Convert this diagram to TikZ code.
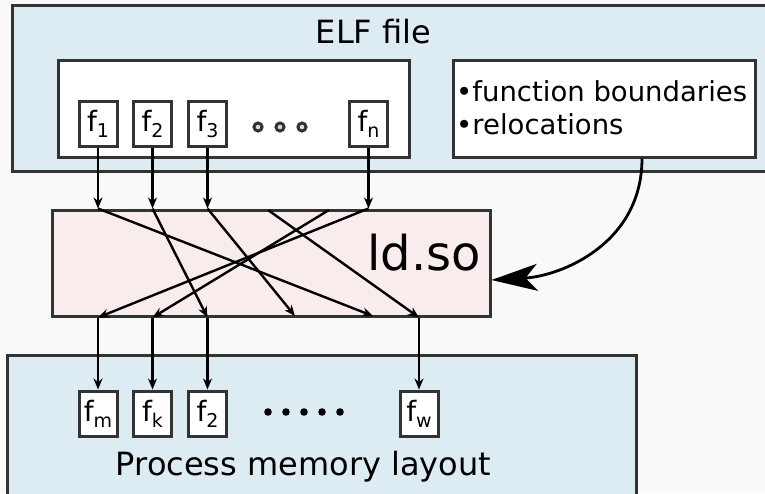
\documentclass[tikz,border=0pt]{standalone}
\usepackage{fontspec}
\setmainfont{DejaVu Sans}
\usetikzlibrary{arrows.meta, positioning, calc}
\definecolor{cbg}{HTML}{F9F9F9}
\definecolor{cpanel}{HTML}{DDECF3}
\definecolor{cpink}{HTML}{F9ECEC}
\definecolor{cline}{HTML}{333333}
\definecolor{cdot}{HTML}{C9E6F7}

\newcommand{\fsub}[1]{f\raisebox{-6pt}{\fontsize{19}{19}\selectfont #1}}

\tikzset{
  panel/.style={draw=cline, line width=3pt, fill=cpanel, inner sep=0pt},
  whitebox/.style={draw=cline, line width=3pt, fill=white, inner sep=0pt},
  fbox/.style={whitebox, minimum width=38pt, minimum height=45pt, font=\fontsize{28}{28}\selectfont},
  flow/.style={-{Stealth[length=11pt, width=9pt]}, line width=2.4pt},
  feed/.style={-{Stealth[length=46pt, width=27pt, inset=12pt]}, line width=2.8pt},
}

\begin{document}
\begin{tikzpicture}[x=1pt, y=-1pt]
  \useasboundingbox (0,0) rectangle (765,493);
  \clip (0,0) rectangle (765,493);
  \fill[cbg] (0,0) rectangle (765,493);

  % ELF file
  \node[panel, minimum width=770pt, minimum height=166pt] (elf) at (397,88) {};
  \node[anchor=base, font=\fontsize{32}{32}\selectfont] (elftitle) at (373.5,43) {ELF file};
  \node[whitebox, minimum width=351pt, minimum height=97pt] (code) at (233.5,108.5) {};
  \node[whitebox, minimum width=302pt, minimum height=97pt] (meta) at (604,108.5) {};
  \node[anchor=west, align=left, inner sep=0pt, font=\fontsize{27.5}{33}\selectfont] (metatext) at (456,108)
    {•function boundaries\\•relocations};

  \node[fbox] (f1) at (98,123.5) {\fsub{1}};
  \node[fbox] (f2) at (152.5,123.5) {\fsub{2}};
  \node[fbox] (f3) at (207.5,123.5) {\fsub{3}};
  \node[fbox] (fn) at (368.5,123.5) {\fsub{n}};
  \foreach \x in {258,280,302}
    \fill[cdot, draw=cline, line width=3pt] (\x,127) circle (4pt);

  % loader
  \node[draw=cline, line width=3pt, fill=cpink, minimum width=438pt, minimum height=106pt] (ldso) at (271,263) {};
  \node[anchor=base, font=\fontsize{48}{48}\selectfont] (ldtitle) at (424,270) {ld.so};

  % process memory
  \node[panel, minimum width=629pt, minimum height=150pt] (mem) at (321.5,430) {};
  \node[fbox] (fm) at (98,413.5) {\fsub{m}};
  \node[fbox] (fk) at (152.5,413.5) {\fsub{k}};
  \node[fbox] (fb) at (207.5,413.5) {\fsub{2}};
  \node[fbox] (fw) at (419,413.5) {\fsub{w}};
  \foreach \x in {268,286,304,322,340}
    \fill[black] (\x,412) circle (3.8pt);
  \node[anchor=base, font=\fontsize{32}{32}\selectfont] (memtitle) at (303.5,475) {Process memory layout};

  % entry and exit points on ld.so
  \coordinate (t1) at (f1.south |- ldso.north);
  \coordinate (t2) at (f2.south |- ldso.north);
  \coordinate (t3) at (f3.south |- ldso.north);
  \coordinate (t4) at (268,210);
  \coordinate (t5) at (329,210);
  \coordinate (t6) at (fn.south |- ldso.north);
  \coordinate (b1) at (fm.north |- ldso.south);
  \coordinate (b2) at (fk.north |- ldso.south);
  \coordinate (b3) at (fb.north |- ldso.south);
  \coordinate (b4) at (295,316);
  \coordinate (b5) at (373,316);
  \coordinate (b6) at (fw.north |- ldso.south);

  \draw[flow] (f1) -- (t1);
  \draw[flow] (f2) -- (t2);
  \draw[flow] (f3) -- (t3);
  \draw[flow] (fn) -- (t6);

  \draw[flow] (t1) -- (b5);
  \draw[flow] (t2) -- (b3);
  \draw[flow] (t3) -- (b4);
  \draw[flow] (t4) -- (b6);
  \draw[flow] (t5) -- (b2);
  \draw[flow] (t6) -- (b1);

  \draw[flow] (b1) -- (fm);
  \draw[flow] (b2) -- (fk);
  \draw[flow] (b3) -- (fb);
  \draw[flow] (b6) -- (fw);

  \draw[feed] ([xshift=38pt]meta.south) .. controls +(0,85) and +(70,-4) .. ([yshift=-17pt]ldso.east);
\end{tikzpicture}
\end{document}
